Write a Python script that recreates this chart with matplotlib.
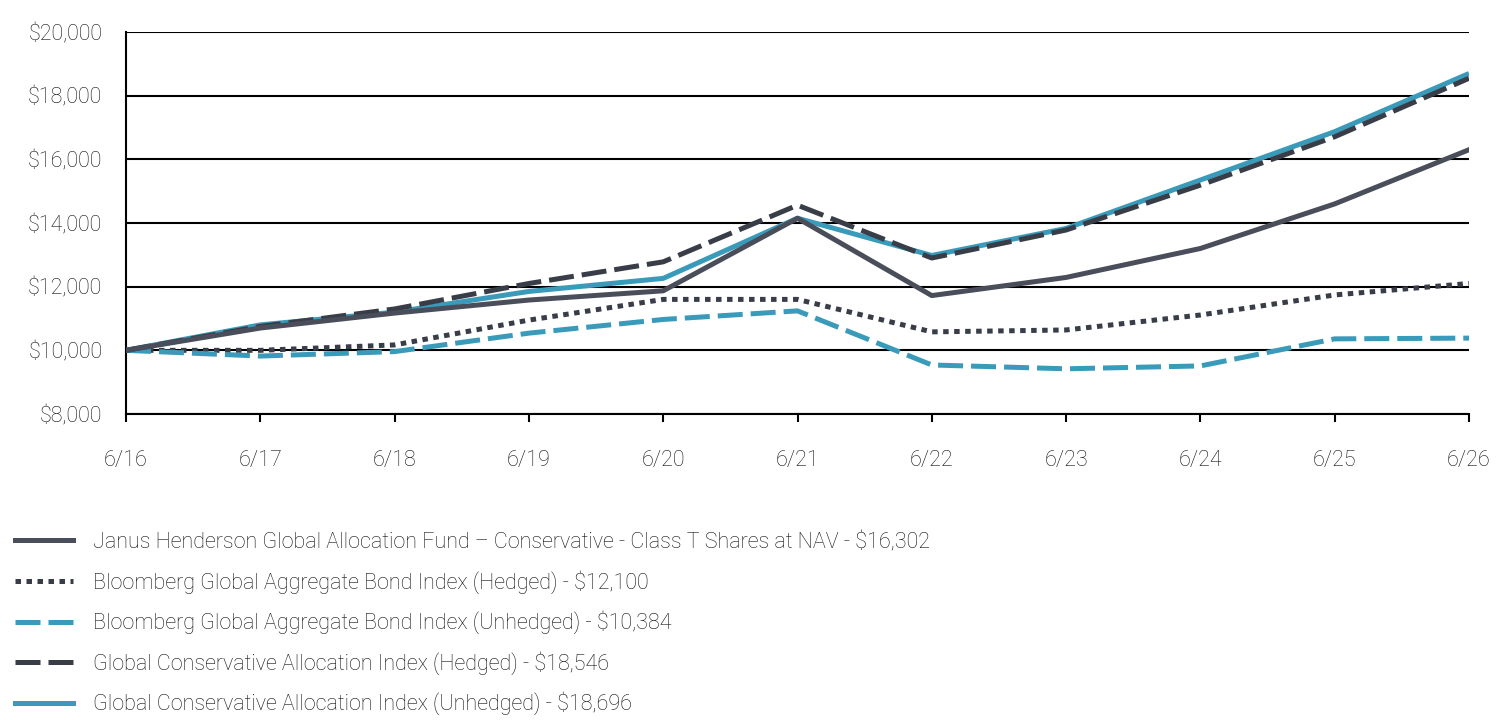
import matplotlib
matplotlib.use("Agg")
import matplotlib.pyplot as plt
from matplotlib.ticker import FuncFormatter
from matplotlib.lines import Line2D

plt.rcParams['font.family'] = ['Roboto', 'DejaVu Sans']

dates = ["6/16", "6/17", "6/18", "6/19", "6/20", "6/21", "6/22", "6/23", "6/24", "6/25", "6/26"]
fund = [10000, 10700, 11170, 11580, 11870, 14150, 11720, 12290, 13200, 14600, 16302]
bbg_hedged = [10000, 10000, 10170, 10950, 11600, 11600, 10580, 10640, 11110, 11740, 12100]
bbg_unhedged = [10000, 9820, 9960, 10540, 10970, 11240, 9540, 9420, 9510, 10360, 10384]
gca_hedged = [10000, 10750, 11300, 12100, 12780, 14560, 12900, 13780, 15190, 16710, 18546]
gca_unhedged = [10000, 10800, 11200, 11850, 12260, 14150, 12980, 13830, 15350, 16870, 18696]

labels = [
    "Janus Henderson Global Allocation Fund \u2013 Conservative - Class T Shares at NAV - $16,302",
    "Bloomberg Global Aggregate Bond Index (Hedged) - $12,100",
    "Bloomberg Global Aggregate Bond Index (Unhedged) - $10,384",
    "Global Conservative Allocation Index (Hedged) - $18,546",
    "Global Conservative Allocation Index (Unhedged) - $18,696",
]

dark = "#4a4e5a"
darker = "#383d48"
teal = "#3a9aba"
lw = 3.6
fs = 15.5
txtcolor = "#111111"

fig = plt.figure(figsize=(15.12, 7.2), dpi=100)
ax = fig.add_axes([126/1512, 1 - 414/720, (1469-126)/1512, (414-32)/720])

x = list(range(len(dates)))
ax.plot(x, gca_unhedged, color=teal, lw=lw, solid_capstyle='butt', zorder=3)
ax.plot(x, gca_hedged, color=darker, lw=lw, dashes=(5, 1.6), zorder=4)
ax.plot(x, bbg_hedged, color=darker, lw=lw, dashes=(1.1, 1.1), zorder=3)
ax.plot(x, bbg_unhedged, color=teal, lw=lw, dashes=(5, 1.6), zorder=3)
ax.plot(x, fund, color=dark, lw=lw, zorder=5)

ax.set_xlim(0, len(dates) - 1)
ax.set_ylim(8000, 20000)
ax.set_yticks(range(8000, 20001, 2000))
ax.yaxis.set_major_formatter(FuncFormatter(lambda v, p: f"${int(v):,}"))
ax.set_xticks(x)
ax.set_xticklabels(dates)
ax.grid(axis='y', color='black', lw=1.5, zorder=1)
ax.set_axisbelow(True)
for s in ['top', 'right']:
    ax.spines[s].set_visible(False)
for s in ['left', 'bottom']:
    ax.spines[s].set_linewidth(1.5)
    ax.spines[s].set_color('black')
ax.tick_params(axis='y', length=0, pad=17, labelsize=fs)
ax.tick_params(axis='x', length=6, width=1.5, direction='out', pad=20, labelsize=fs)
for t in ax.get_xticklabels() + ax.get_yticklabels():
    t.set_fontweight('light')
    t.set_color(txtcolor)

handles = [
    Line2D([], [], color=dark, lw=lw),
    Line2D([], [], color=darker, lw=lw, dashes=(1.1, 1.1)),
    Line2D([], [], color=teal, lw=lw, dashes=(5, 1.6)),
    Line2D([], [], color=darker, lw=lw, dashes=(5, 1.6)),
    Line2D([], [], color=teal, lw=lw),
]
leg = fig.legend(handles, labels, loc='upper left', bbox_to_anchor=(15/1512, 1 - 532/720),
                 frameon=False, fontsize=fs, handlelength=2.7, handletextpad=0.93,
                 labelspacing=0.79, borderaxespad=0, borderpad=0)
for t in leg.get_texts():
    t.set_fontweight('light')
    t.set_color(txtcolor)

fig.savefig("out.png", dpi=100)
